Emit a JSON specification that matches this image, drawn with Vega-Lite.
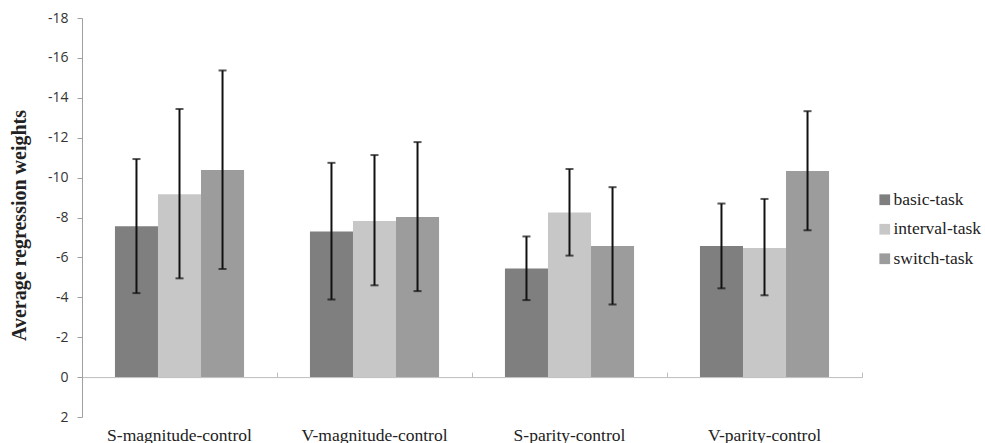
{
  "$schema": "https://vega.github.io/schema/vega-lite/v6.json",
  "width": 780,
  "height": 399,
  "autosize": {"type": "none"},
  "padding": {"left": 82, "top": 18, "right": 123, "bottom": 26},
  "config": {
    "view": {"stroke": null},
    "axisY": {
      "values": [-18, -16, -14, -12, -10, -8, -6, -4, -2, 0, 2],
      "labelExpr": "'' + datum.value",
      "labelOverlap": false,
      "grid": false,
      "titleFont": "Liberation Serif",
      "titleFontSize": 20,
      "titleFontWeight": "bold",
      "titleColor": "#222222",
      "titlePadding": 18,
      "titleY": 207,
      "labelFont": "Open Sans",
      "labelFontSize": 14,
      "labelColor": "#333333",
      "labelPadding": 9,
      "tickSize": 5,
      "tickColor": "#a0a0a0",
      "domainColor": "#a0a0a0"
    }
  },
  "data": {
    "values": [
      {"cond": "S-magnitude-control", "task": "basic-task", "weight": -7.56, "errLow": -4.21, "errHigh": -10.93},
      {"cond": "S-magnitude-control", "task": "interval-task", "weight": -9.16, "errLow": -4.95, "errHigh": -13.44},
      {"cond": "S-magnitude-control", "task": "switch-task", "weight": -10.38, "errLow": -5.42, "errHigh": -15.37},
      {"cond": "V-magnitude-control", "task": "basic-task", "weight": -7.30, "errLow": -3.89, "errHigh": -10.74},
      {"cond": "V-magnitude-control", "task": "interval-task", "weight": -7.83, "errLow": -4.60, "errHigh": -11.13},
      {"cond": "V-magnitude-control", "task": "switch-task", "weight": -8.02, "errLow": -4.31, "errHigh": -11.78},
      {"cond": "S-parity-control", "task": "basic-task", "weight": -5.44, "errLow": -3.86, "errHigh": -7.05},
      {"cond": "S-parity-control", "task": "interval-task", "weight": -8.25, "errLow": -6.09, "errHigh": -10.43},
      {"cond": "S-parity-control", "task": "switch-task", "weight": -6.57, "errLow": -3.64, "errHigh": -9.52},
      {"cond": "V-parity-control", "task": "basic-task", "weight": -6.57, "errLow": -4.45, "errHigh": -8.70},
      {"cond": "V-parity-control", "task": "interval-task", "weight": -6.47, "errLow": -4.10, "errHigh": -8.93},
      {"cond": "V-parity-control", "task": "switch-task", "weight": -10.33, "errLow": -7.36, "errHigh": -13.33}
    ]
  },
  "encoding": {
    "x": {
      "field": "cond",
      "type": "nominal",
      "sort": ["S-magnitude-control", "V-magnitude-control", "S-parity-control", "V-parity-control"],
      "scale": {"paddingInner": 0.338, "paddingOuter": 0.169}
    },
    "xOffset": {
      "field": "task",
      "type": "nominal",
      "sort": ["basic-task", "interval-task", "switch-task"],
      "scale": {"paddingInner": 0, "paddingOuter": 0}
    }
  },
  "layer": [
    {
      "mark": {"type": "bar"},
      "encoding": {
        "x": {
          "field": "cond",
          "type": "nominal",
          "sort": ["S-magnitude-control", "V-magnitude-control", "S-parity-control", "V-parity-control"],
          "axis": {
            "orient": "bottom",
            "title": null,
            "labelAngle": 0,
            "domain": false,
            "ticks": false,
            "labelPadding": 9,
            "labelFont": "Liberation Serif",
            "labelFontSize": 17.5,
            "labelColor": "#222222"
          }
        },
        "y": {
          "field": "weight",
          "type": "quantitative",
          "scale": {"domain": [-18, 2], "reverse": true, "nice": false, "zero": false},
          "axis": {"title": "Average regression weights"}
        },
        "y2": {"datum": 0},
        "color": {
          "field": "task",
          "type": "nominal",
          "sort": ["basic-task", "interval-task", "switch-task"],
          "scale": {"domain": ["basic-task", "interval-task", "switch-task"], "range": ["#7f7f7f", "#c6c7c6", "#9b9c9b"]},
          "legend": {
            "title": null,
            "orient": "none",
            "legendX": 794,
            "legendY": 173,
            "padding": 0,
            "symbolType": "square",
            "symbolSize": 115,
            "symbolStrokeWidth": 0,
            "rowPadding": 10.5,
            "labelFont": "Liberation Serif",
            "labelFontSize": 17.5,
            "labelColor": "#222222",
            "labelOffset": 0
          }
        }
      }
    },
    {
      "mark": {"type": "rule", "color": "#111111", "strokeWidth": 2},
      "encoding": {
        "x": {
          "field": "cond",
          "type": "nominal",
          "sort": ["S-magnitude-control", "V-magnitude-control", "S-parity-control", "V-parity-control"],
          "axis": {
            "orient": "bottom",
            "title": null,
            "labels": false,
            "domain": true,
            "ticks": true,
            "bandPosition": 1.2555,
            "tickSize": -5,
            "offset": -39.9,
            "domainColor": "#bdbdbd",
            "tickColor": "#bdbdbd"
          }
        },
        "y": {"field": "errLow", "type": "quantitative", "axis": {"title": "Average regression weights"}},
        "y2": {"field": "errHigh"}
      }
    },
    {
      "mark": {"type": "tick", "color": "#111111", "thickness": 2, "size": 8},
      "encoding": {
        "x": {"field": "cond", "type": "nominal", "sort": ["S-magnitude-control", "V-magnitude-control", "S-parity-control", "V-parity-control"], "axis": null},
        "y": {"field": "errLow", "type": "quantitative", "axis": {"title": "Average regression weights"}}
      }
    },
    {
      "mark": {"type": "tick", "color": "#111111", "thickness": 2, "size": 8},
      "encoding": {
        "x": {"field": "cond", "type": "nominal", "sort": ["S-magnitude-control", "V-magnitude-control", "S-parity-control", "V-parity-control"], "axis": null},
        "y": {"field": "errHigh", "type": "quantitative", "axis": {"title": "Average regression weights"}}
      }
    }
  ],
  "resolve": {"axis": {"x": "independent"}}
}
